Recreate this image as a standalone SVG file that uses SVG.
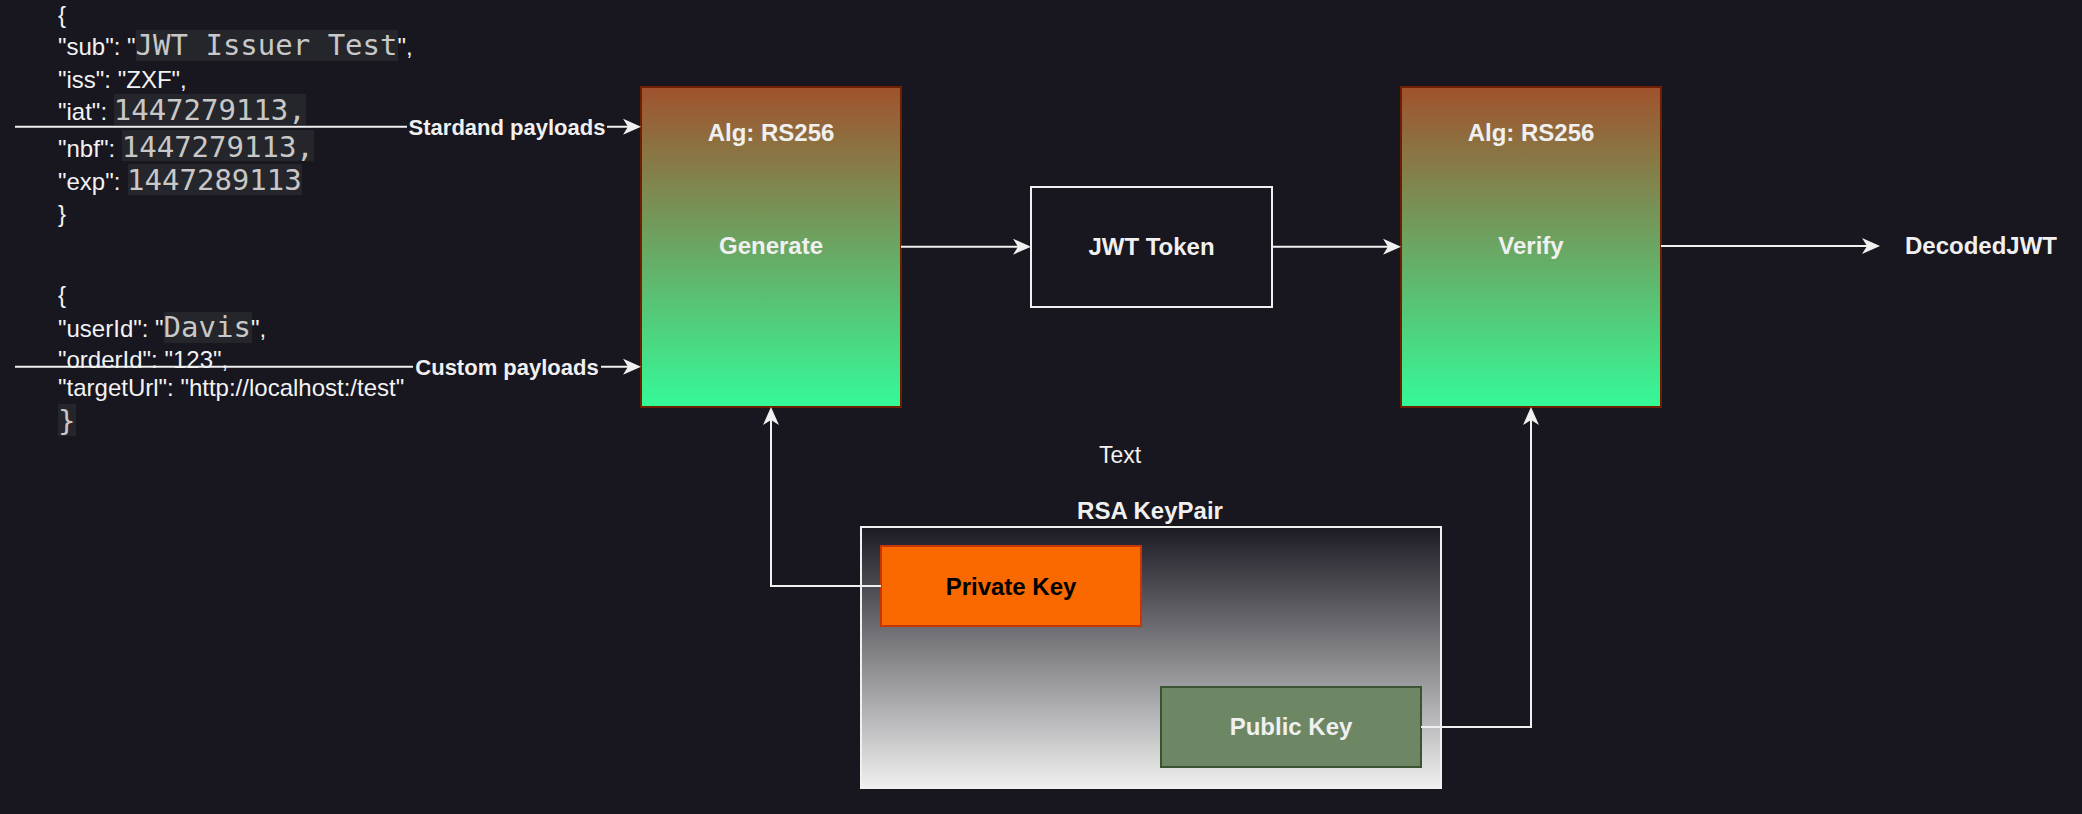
<svg xmlns="http://www.w3.org/2000/svg" width="2082" height="814" viewBox="0 0 2082 814">
<defs>
<linearGradient id="gAlg" x1="0" y1="0" x2="0" y2="1">
<stop offset="0" stop-color="#a0522d"/>
<stop offset="1" stop-color="#35fa98"/>
</linearGradient>
<linearGradient id="gPair" x1="0" y1="0" x2="0" y2="1">
<stop offset="0" stop-color="#1c1a23"/>
<stop offset="1" stop-color="#f0f0f0"/>
</linearGradient>
<marker id="arr" viewBox="0 0 18 16" markerWidth="18" markerHeight="16" refX="5" refY="8" orient="auto" markerUnits="userSpaceOnUse">
<path d="M0,0 L18,8 L0,16 L5,8 Z" fill="#f0f0f0"/>
</marker>
<style>
.sans{font-family:"Liberation Sans",Arial,sans-serif;font-size:24px;fill:#f2f2f2}
.mono{font-family:"DejaVu Sans Mono","Liberation Mono",monospace;font-size:29px;fill:#c8c8c8}
.code{fill:#25262b}
.lbl{font-family:"Liberation Sans",Arial,sans-serif;font-size:24px;font-weight:bold;fill:#f0f0f0;text-anchor:middle}
.elbl{font-family:"Liberation Sans",Arial,sans-serif;font-size:22px;font-weight:bold;fill:#f0f0f0;text-anchor:middle}
.alg{fill:url(#gAlg);stroke:#6d1f00;stroke-width:2}
.edge{fill:none;stroke:#f0f0f0;stroke-width:2;marker-end:url(#arr)}
.bg{fill:#18161f}
</style>
</defs>
<rect x="0" y="0" width="2082" height="814" class="bg"/>

<g id="payload-standard">
<rect x="136" y="30" width="262" height="31" class="code"/>
<rect x="114" y="94" width="192" height="31" class="code"/>
<rect x="122" y="130" width="192" height="31" class="code"/>
<rect x="128" y="164" width="174" height="31" class="code"/>
<text class="sans" x="58" y="23">{</text>
<text class="sans" x="58" y="55">"sub": "<tspan class="mono">JWT Issuer Test</tspan>",</text>
<text class="sans" x="58" y="88">"iss": "ZXF",</text>
<text class="sans" x="58" y="120">"iat": <tspan class="mono">1447279113,</tspan></text>
<text class="sans" x="58" y="156.5">"nbf": <tspan class="mono">1447279113,</tspan></text>
<text class="sans" x="58" y="190">"exp": <tspan class="mono">1447289113</tspan></text>
<text class="sans" x="58" y="222">}</text>
</g>

<g id="payload-custom">
<rect x="164" y="312" width="88" height="31" class="code"/>
<rect x="58" y="404" width="18" height="32" class="code"/>
<text class="sans" x="58" y="303">{</text>
<text class="sans" x="58" y="337">"userId": "<tspan class="mono">Davis</tspan>",</text>
<text class="sans" x="58" y="368">"orderId": "123",</text>
<text class="sans" x="58" y="396">"targetUrl": "http://localhost:/test"</text>
<text class="mono" x="58" y="431">}</text>
</g>

<g id="generate">
<rect x="641" y="87" width="260" height="320" class="alg"/>
<text class="lbl" x="771" y="140.5">Alg: RS256</text>
<text class="lbl" x="771" y="254">Generate</text>
</g>

<g id="jwt-token">
<rect x="1031" y="187" width="241" height="120" fill="#18161f" stroke="#f0f0f0" stroke-width="2"/>
<text class="lbl" x="1151.5" y="254.5">JWT Token</text>
</g>

<g id="verify">
<rect x="1401" y="87" width="260" height="320" class="alg"/>
<text class="lbl" x="1531" y="140.5">Alg: RS256</text>
<text class="lbl" x="1531" y="254">Verify</text>
</g>

<g id="decoded-jwt">
<text class="lbl" x="1981" y="254">DecodedJWT</text>
</g>

<g id="text-label">
<text class="sans" x="1120" y="463" font-size="23" text-anchor="middle" style="font-size:23px">Text</text>
</g>

<g id="rsa-keypair">
<text class="lbl" x="1150" y="519">RSA KeyPair</text>
<rect x="861" y="527" width="580" height="261" fill="url(#gPair)" stroke="#f0f0f0" stroke-width="2"/>
</g>

<g id="private-key">
<rect x="881" y="546" width="260" height="80" fill="#fa6800" stroke="#c73500" stroke-width="2"/>
<text class="lbl" x="1011" y="594.5" style="fill:#000000">Private Key</text>
</g>

<g id="public-key">
<rect x="1161" y="687" width="260" height="80" fill="#6d8764" stroke="#3a5431" stroke-width="2"/>
<text class="lbl" x="1291" y="735">Public Key</text>
</g>

<g id="connectors">
<path class="edge" d="M15,126.7 H628"/>
<rect x="407" y="113" width="200" height="28" class="bg"/>
<text class="elbl" x="507" y="135">Stardand payloads</text>
<path class="edge" d="M15,366.7 H628"/>
<rect x="413" y="353" width="188" height="28" class="bg"/>
<text class="elbl" x="507" y="375">Custom payloads</text>
<path class="edge" d="M901,246.7 H1018"/>
<path class="edge" d="M1272,246.7 H1388"/>
<path class="edge" d="M1661,246 H1867"/>
<path class="edge" d="M881,586 H771 V420"/>
<path class="edge" d="M1421,727 H1531 V420"/>
</g>
</svg>
